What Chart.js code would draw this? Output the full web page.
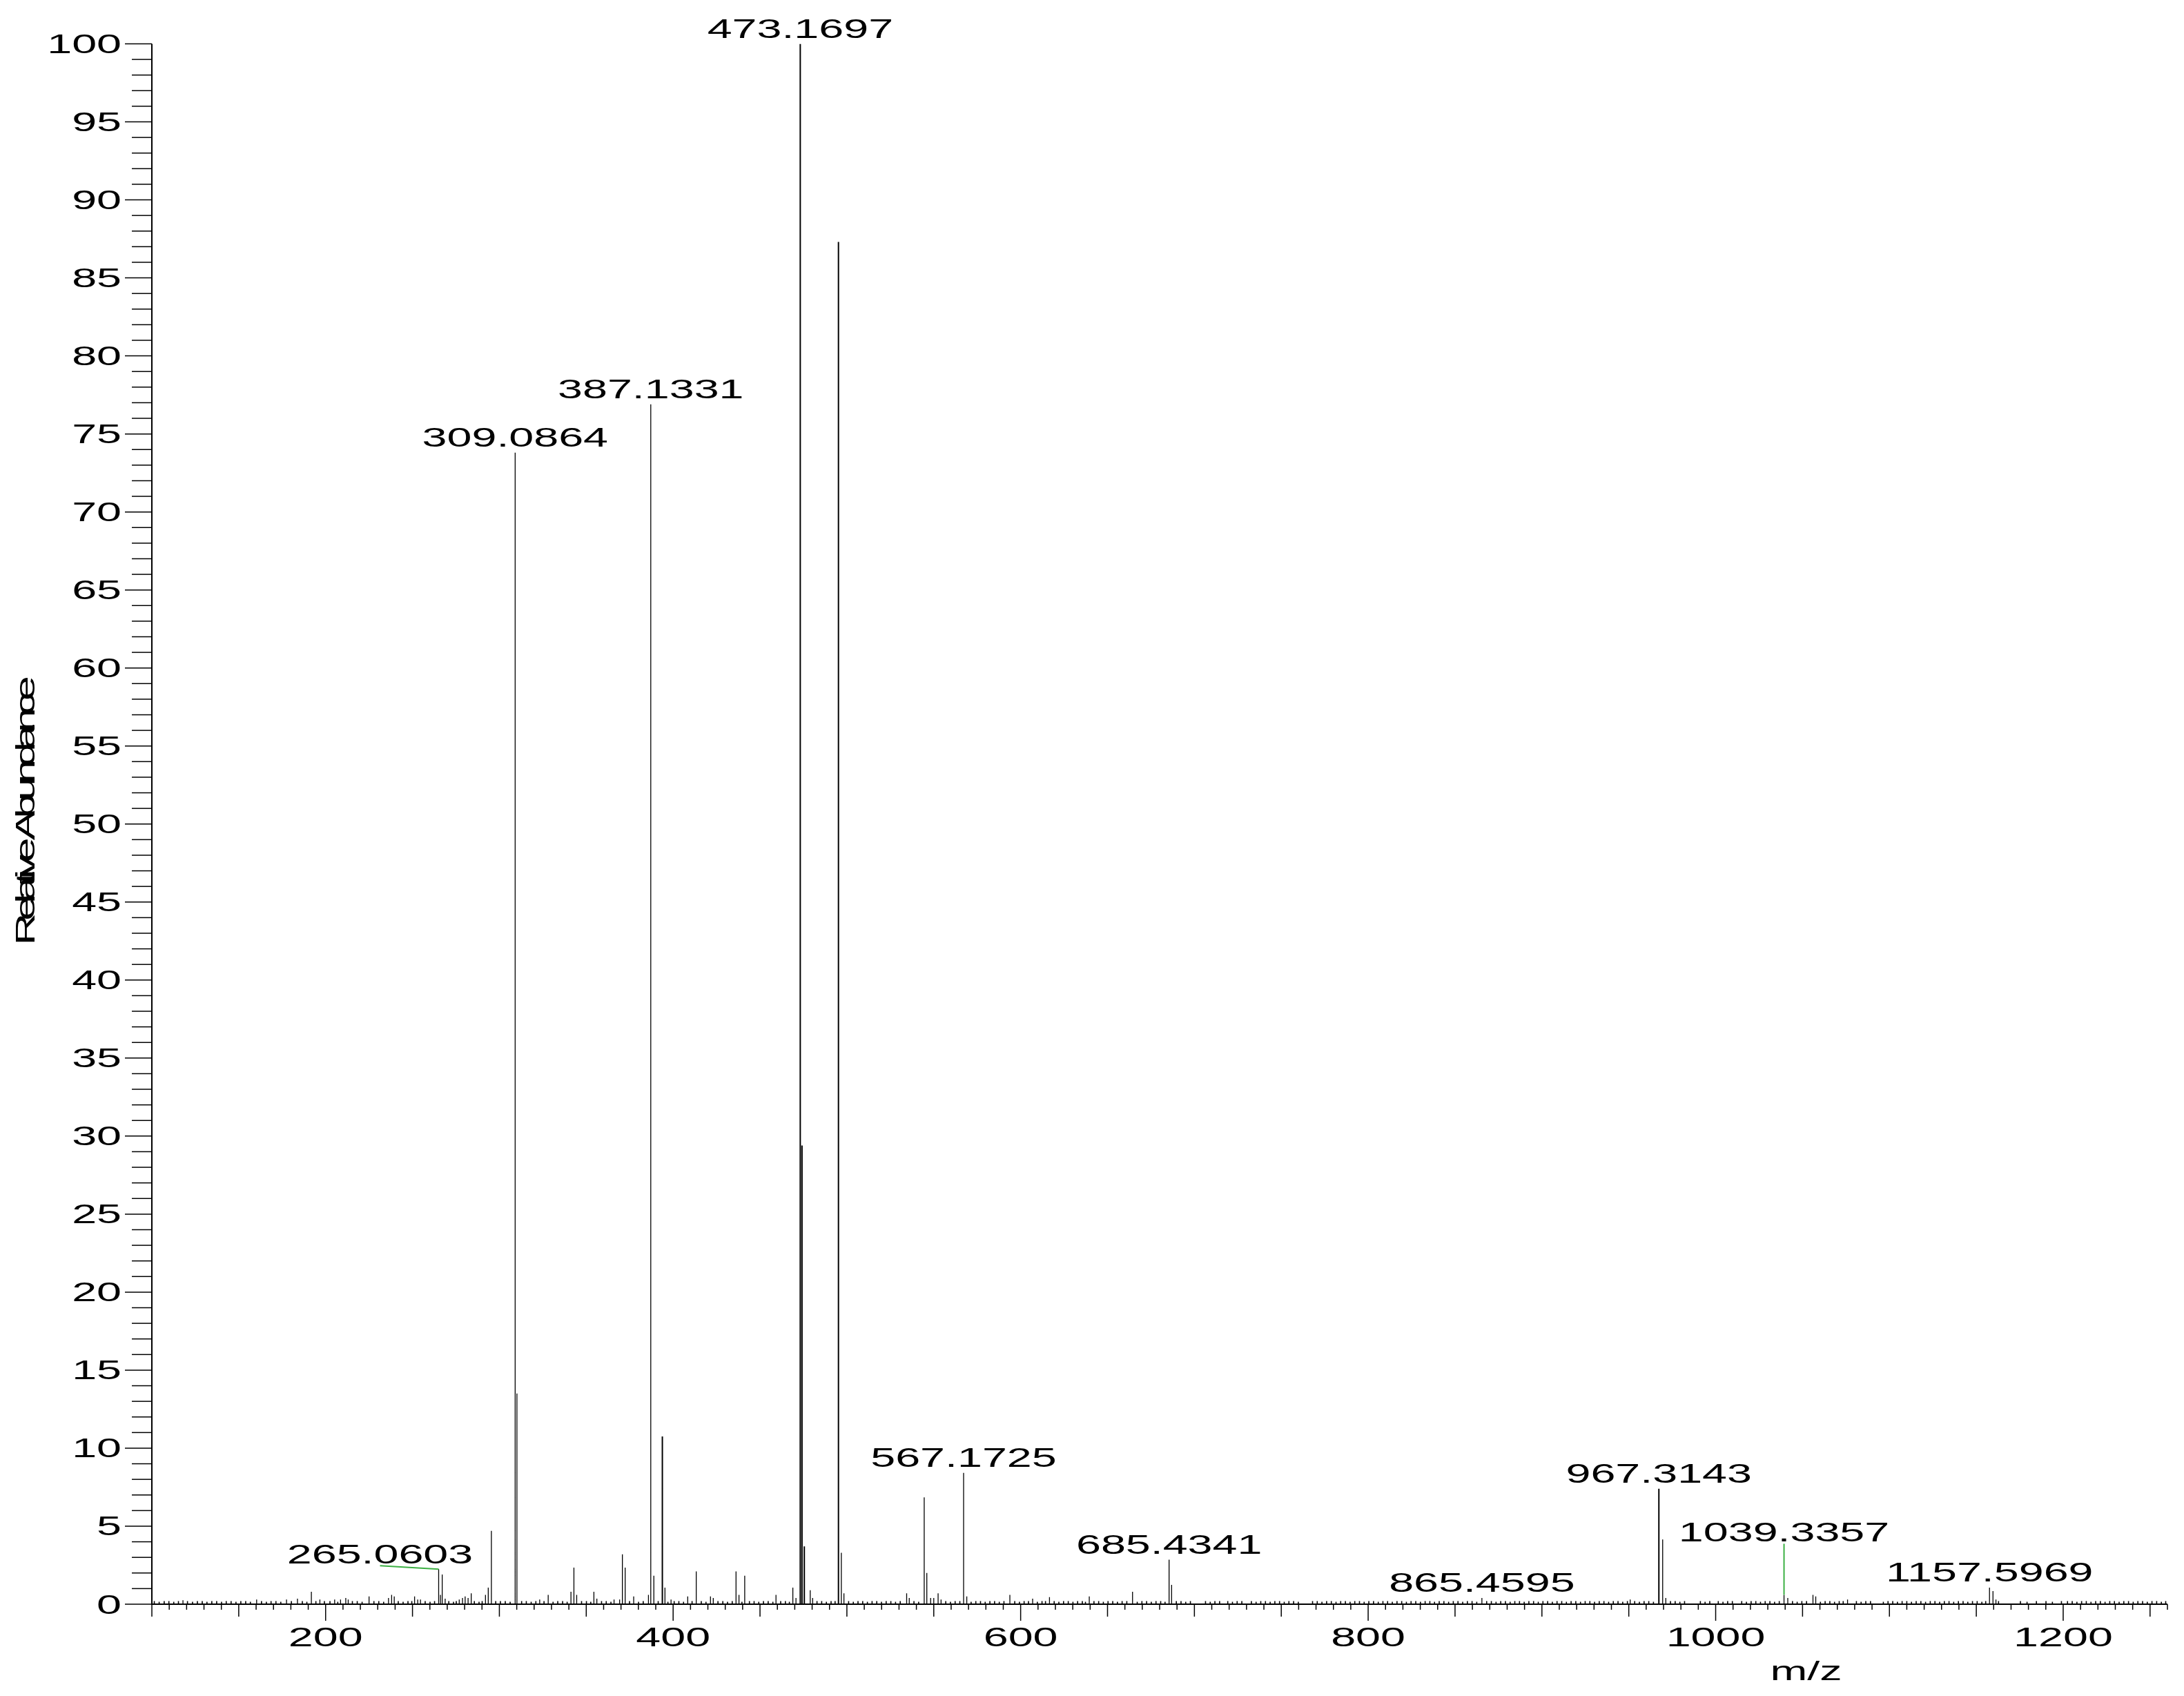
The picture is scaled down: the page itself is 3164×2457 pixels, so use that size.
<!DOCTYPE html>
<html>
<head>
<meta charset="utf-8">
<title>Mass spectrum</title>
<script src="https://cdn.jsdelivr.net/npm/chart.js@4.4.1/dist/chart.umd.min.js"></script>
<style>
  html, body { margin: 0; padding: 0; background: #fff; }
  canvas { display: block; }
</style>
</head>
<body>
<canvas id="spectrum" width="3164" height="2457" style="width:3164px;height:2457px"></canvas>
<script>
// centroid peaks (m/z, relative abundance %)
const peakMz = [
    117.9, 160.3, 177.5, 183.8, 191.8, 196.7, 205.2, 208.6, 211.6, 213.0,
    225.0, 236.2, 238.0, 239.5, 251.2, 253.0, 254.6, 265.0603, 266.1, 267.1,
    268.8, 276.9, 278.8, 280.3, 282.0, 283.8, 292.0, 293.6, 295.4, 309.0864,
    310.1, 323.2, 328.1, 341.2, 342.9, 344.5, 354.4, 356.1, 366.0, 369.2,
    370.8, 372.4, 377.3, 385.8, 387.1331, 388.9, 393.8, 395.3, 398.8, 408.4,
    413.3, 421.5, 423.1, 436.2, 437.9, 441.2, 459.2, 468.9, 470.7, 473.1697,
    474.17, 475.5, 478.9, 480.3, 495.15, 496.8, 498.3, 534.4, 535.9, 544.5,
    546.0, 548.2, 550.0, 552.5, 554.2, 567.1725, 569.0, 593.8, 606.9, 616.6,
    639.5, 664.4, 685.4341, 686.9, 865.4595, 950.8, 967.3143, 969.5, 971.3, 1039.3357,
    1041.5, 1056.0, 1057.6, 1075.9, 1157.5969, 1159.6, 1161.3
];
const peakInt = [
    0.25, 0.3, 0.3, 0.35, 0.8, 0.3, 0.3, 0.3, 0.4, 0.3,
    0.5, 0.4, 0.6, 0.5, 0.5, 0.3, 0.3, 2.25, 0.6, 1.9,
    0.35, 0.3, 0.4, 0.5, 0.4, 0.7, 0.6, 1.06, 4.7, 73.8,
    13.5, 0.3, 0.6, 0.8, 2.35, 0.6, 0.8, 0.35, 0.3, 0.3,
    3.2, 2.35, 0.5, 0.6, 76.9, 1.83, 10.75, 1.06, 0.3, 0.5,
    2.1, 0.5, 0.4, 2.1, 0.6, 1.83, 0.6, 1.06, 0.4, 100,
    29.4, 3.7, 0.9, 0.4, 87.3, 3.3, 0.7, 0.7, 0.4, 6.85,
    2.0, 0.4, 0.4, 0.7, 0.3, 8.42, 0.5, 0.6, 0.35, 0.45,
    0.5, 0.8, 2.85, 1.24, 0.4, 0.3, 7.4, 4.15, 0.4, 0.6,
    0.4, 0.6, 0.5, 0.3, 1.06, 0.84, 0.3
];

// baseline noise ticks [m/z, %]
const noisePeaks = [
    [101.4,.2],[104.2,.15],[107.1,.2],[109.8,.2],[112.6,.15],[115.3,.2],[120.5,.2],[123.4,.15],[126.2,.2],[129.0,.2],
    [131.7,.15],[134.5,.2],[137.3,.2],[140.1,.15],[142.8,.2],[145.6,.2],[148.4,.15],[151.2,.2],[154.0,.2],[156.7,.15],
    [163.1,.2],[165.9,.15],[168.6,.2],[171.4,.2],[174.2,.15],[180.3,.2],[186.6,.2],[189.2,.15],[194.4,.2],[199.3,.2],
    [202.5,.2],[207.0,.15],[215.4,.2],[218.2,.2],[221.0,.15],[227.8,.2],[230.6,.2],[233.4,.15],[241.8,.2],[244.6,.15],
    [247.4,.2],[249.6,.2],[257.3,.2],[260.1,.15],[262.7,.2],[270.9,.2],[273.6,.15],[275.2,.2],[285.6,.2],[288.3,.15],
    [290.1,.2],[297.9,.2],[300.6,.2],[303.4,.2],[306.2,.15],[312.8,.2],[315.5,.2],[318.3,.15],[321.0,.2],[325.7,.2],
    [330.9,.15],[333.6,.2],[336.4,.2],[339.0,.15],[347.3,.2],[350.1,.2],[352.6,.15],[358.8,.2],[361.5,.2],[364.2,.15],
    [374.9,.2],[380.1,.15],[382.8,.2],[391.4,.2],[397.0,.15],[400.6,.2],[403.3,.2],[406.0,.15],[410.9,.2],[416.2,.2],
    [418.9,.15],[425.8,.2],[428.6,.2],[431.3,.15],[434.0,.2],[439.6,.15],[443.9,.2],[446.6,.2],[449.3,.15],[452.0,.2],
    [454.7,.2],[457.4,.15],[461.9,.2],[464.6,.2],[466.9,.15],[482.8,.2],[485.5,.2],[488.2,.15],[490.9,.2],[493.2,.2],
    [501.0,.2],[503.7,.15],[506.4,.2],[509.1,.2],[511.8,.15],[514.5,.2],[517.2,.2],[519.9,.15],[522.6,.2],[525.3,.2],
    [528.0,.15],[530.7,.2],[538.6,.2],[541.3,.15],[556.9,.2],[559.6,.15],[562.3,.2],[565.0,.2],[571.5,.15],[574.2,.2],
    [576.9,.2],[579.6,.15],[582.3,.2],[585.0,.2],[587.7,.15],[590.4,.2],[596.6,.2],[599.3,.15],[602.0,.2],[604.5,.2],
    [609.6,.15],[612.3,.2],[614.3,.2],[619.3,.2],[622.0,.15],[624.7,.2],[627.4,.2],[630.1,.15],[632.8,.2],[635.5,.2],
    [637.3,.15],[642.2,.2],[644.9,.2],[647.6,.15],[650.3,.2],[653.0,.2],[655.7,.15],[658.4,.2],[661.1,.2],[667.1,.15],
    [669.8,.2],[672.5,.2],[675.2,.15],[677.9,.2],[680.6,.2],[683.1,.15],[689.6,.2],[692.3,.2],[695.0,.15],[697.7,.2],
    [706.4,.2],[709.1,.15],[711.8,.2],[714.5,.2],[719.2,.2],[721.9,.15],[724.6,.2],[727.3,.2],[732.8,.2],[735.5,.15],
    [738.2,.2],[740.9,.2],[743.6,.15],[746.3,.2],[749.0,.2],[751.7,.15],[754.4,.2],[757.1,.2],[759.8,.15],[768.0,.2],
    [770.7,.2],[773.4,.15],[776.1,.2],[778.8,.2],[781.5,.15],[784.2,.2],[786.9,.2],[789.6,.15],[792.3,.2],[795.0,.2],
    [797.7,.15],[800.4,.2],[803.1,.2],[805.8,.15],[808.5,.2],[811.2,.2],[813.9,.15],[816.6,.2],[819.3,.2],[822.0,.15],
    [824.7,.2],[827.4,.2],[830.1,.15],[832.8,.2],[835.5,.2],[838.2,.15],[840.9,.2],[843.6,.2],[846.3,.15],[849.0,.2],
    [851.7,.2],[854.4,.15],[857.1,.2],[859.8,.2],[862.5,.15],[868.2,.2],[870.9,.2],[873.6,.15],[876.3,.2],[879.0,.2],
    [881.7,.15],[884.4,.2],[887.1,.2],[889.8,.15],[892.5,.2],[895.2,.2],[897.9,.15],[900.6,.2],[903.3,.2],[906.0,.15],
    [908.7,.2],[911.4,.2],[914.1,.15],[916.8,.2],[919.5,.2],[922.2,.15],[924.9,.2],[927.6,.2],[930.3,.15],[933.0,.2],
    [935.7,.2],[938.4,.15],[941.1,.2],[943.8,.2],[946.5,.15],[949.2,.2],[953.4,.2],[956.1,.15],[958.8,.2],[961.5,.2],
    [964.2,.15],[974.0,.2],[976.7,.2],[979.4,.15],[982.1,.2],[991.2,.2],[993.9,.15],[996.6,.2],[1001.5,.2],[1004.2,.15],
    [1006.9,.2],[1009.6,.2],[1015.0,.2],[1017.7,.15],[1020.4,.2],[1023.1,.2],[1025.8,.15],[1028.5,.2],[1031.2,.2],[1033.9,.15],
    [1036.6,.2],[1044.2,.2],[1046.9,.15],[1049.6,.2],[1052.3,.2],[1060.3,.15],[1063.0,.2],[1065.7,.2],[1068.4,.15],[1071.1,.2],
    [1073.4,.2],[1081.0,.2],[1083.7,.15],[1086.4,.2],[1089.1,.2],[1096.5,.15],[1099.2,.2],[1101.9,.2],[1104.6,.15],[1107.3,.2],
    [1110.0,.2],[1112.7,.15],[1115.4,.2],[1118.1,.2],[1120.8,.15],[1123.5,.2],[1126.2,.2],[1128.9,.15],[1131.6,.2],[1134.3,.2],
    [1137.0,.15],[1139.7,.2],[1142.4,.2],[1145.1,.15],[1147.8,.2],[1150.5,.2],[1153.2,.15],[1155.4,.2],[1162.8,.2],[1175.4,.2],
    [1179.2,.15],[1184.6,.2],[1190.1,.2],[1193.8,.15],[1199.0,.2],[1202.5,.2],[1205.2,.2],[1207.9,.15],[1210.6,.2],[1213.3,.2],
    [1216.0,.15],[1218.7,.2],[1221.4,.2],[1224.1,.15],[1226.8,.2],[1229.5,.2],[1232.2,.15],[1234.9,.2],[1237.6,.2],[1240.3,.15],
    [1243.0,.2],[1245.7,.2],[1248.4,.15],[1251.1,.2],[1253.8,.2],[1256.5,.15],[1259.0,.2]
];

// peaks carrying an m/z annotation
const labelMz = [265.0603, 309.0864, 387.1331, 473.1697, 567.1725, 685.4341, 865.4595, 967.3143, 1039.3357, 1157.5969];

// axis tick labels
const xTickValues = [200, 400, 600, 800, 1000, 1200];
const yTickValues = [0, 5, 10, 15, 20, 25, 30, 35, 40, 45, 50, 55, 60, 65, 70, 75, 80, 85, 90, 95, 100];

// styling
const thickPeaks = [393.8, 473.1697, 474.17, 475.5, 495.15, 967.3143];
const FONT = '38px "Liberation Sans", Arial, Helvetica, sans-serif';
const STRETCH = 1.7;
const LEADER = '#3cb043';
// moved labels (pixel offsets) get a green leader line back to the peak
const labelShift = { 265.0603: [-85, 1], 1039.3357: [0, -68] };

function sticks(mzs, ints) {
    const pts = [];
    mzs.forEach((m, i) => {
        pts.push({ x: m, y: 0 }, { x: m, y: ints[i] }, { x: m, y: null });
    });
    return pts;
}

const thickIdx = peakMz.map((m, i) => i).filter(i => thickPeaks.includes(peakMz[i]));
const thinIdx = peakMz.map((m, i) => i).filter(i => !thickPeaks.includes(peakMz[i]));

function stretchedText(ctx, text, x, y, align) {
    ctx.save();
    ctx.translate(x, y);
    ctx.scale(STRETCH, 1);
    ctx.textAlign = align;
    ctx.textBaseline = 'alphabetic';
    ctx.fillText(text, 0, 0);
    ctx.restore();
}

function seg(ctx, x1, y1, x2, y2) {
    ctx.beginPath();
    ctx.moveTo(x1, y1);
    ctx.lineTo(x2, y2);
    ctx.stroke();
}

const spectrumAxes = {
    id: 'spectrumAxes',
    afterDraw(chart) {
        const ctx = chart.ctx;
        const xs = chart.scales.x, ys = chart.scales.y;
        const area = chart.chartArea;
        const left = area.left, right = area.right, bottom = area.bottom;

        ctx.save();
        ctx.strokeStyle = '#000';
        ctx.fillStyle = '#000';
        ctx.font = FONT;

        // axis lines
        ctx.lineWidth = 2;
        ctx.beginPath();
        ctx.moveTo(left, ys.getPixelForValue(100));
        ctx.lineTo(left, bottom);
        ctx.lineTo(right, bottom);
        ctx.stroke();

        // y ticks: minor every 1, major every 5
        ctx.lineWidth = 1.5;
        for (let v = 0; v <= 100; v++) {
            const y = ys.getPixelForValue(v);
            const len = v % 5 === 0 ? 39 : 29;
            seg(ctx, left - len, y, left, y);
        }
        yTickValues.forEach(v => {
            stretchedText(ctx, String(v), left - 44, ys.getPixelForValue(v) + 13.5, 'right');
        });

        // x ticks: minor every 10, medium every 50, major every 200
        for (let v = 100; v <= 1260; v += 10) {
            const x = xs.getPixelForValue(v);
            const len = v % 200 === 0 ? 24 : (v % 50 === 0 ? 18 : 8);
            seg(ctx, x, bottom, x, bottom + len);
        }
        xTickValues.forEach(v => {
            stretchedText(ctx, String(v), xs.getPixelForValue(v), bottom + 61, 'center');
        });

        // axis titles
        stretchedText(ctx, 'm/z', xs.getPixelForValue(1052), bottom + 110, 'center');
        ctx.save();
        ctx.translate(50, (area.top + bottom) / 2 - 14);
        ctx.rotate(-Math.PI / 2);
        ctx.scale(STRETCH, 1);
        if ('letterSpacing' in ctx) ctx.letterSpacing = '-6.5px';
        ctx.textAlign = 'center';
        ctx.fillText('Relative Abundance', 0, 0);
        ctx.restore();

        // peak annotations
        labelMz.forEach(mz => {
            const i = peakMz.indexOf(mz);
            const px = xs.getPixelForValue(mz);
            const py = ys.getPixelForValue(peakInt[i]);
            const shift = labelShift[mz] || [0, 0];
            const lx = px + shift[0];
            const ly = py - 9 + shift[1];
            stretchedText(ctx, mz.toFixed(4), lx, ly, 'center');
            if (labelShift[mz]) {
                ctx.save();
                ctx.strokeStyle = LEADER;
                ctx.lineWidth = 2;
                seg(ctx, lx, ly + 3, px, py);
                ctx.restore();
            }
        });
        ctx.restore();
    }
};

const stickStyle = {
    borderColor: '#000',
    pointRadius: 0,
    pointHoverRadius: 0,
    spanGaps: false,
    tension: 0,
    fill: false
};

new Chart(document.getElementById('spectrum'), {
    type: 'line',
    data: {
        datasets: [
            Object.assign({
                label: 'noise',
                data: sticks(noisePeaks.map(p => p[0]), noisePeaks.map(p => p[1])),
                borderWidth: 1.6
            }, stickStyle),
            Object.assign({
                label: 'peaks',
                data: sticks(thinIdx.map(i => peakMz[i]), thinIdx.map(i => peakInt[i])),
                borderWidth: 1.3
            }, stickStyle),
            Object.assign({
                label: 'major peaks',
                data: sticks(thickIdx.map(i => peakMz[i]), thickIdx.map(i => peakInt[i])),
                borderWidth: 2
            }, stickStyle)
        ]
    },
    options: {
        responsive: false,
        devicePixelRatio: 1,
        animation: false,
        events: [],
        layout: { padding: { left: 220, right: 24, top: 63.5, bottom: 133 } },
        plugins: {
            legend: { display: false },
            tooltip: { enabled: false }
        },
        scales: {
            x: { type: 'linear', min: 100, max: 1260, display: false },
            y: { type: 'linear', min: 0, max: 100, display: false }
        }
    },
    plugins: [spectrumAxes]
});
</script>
</body>
</html>
